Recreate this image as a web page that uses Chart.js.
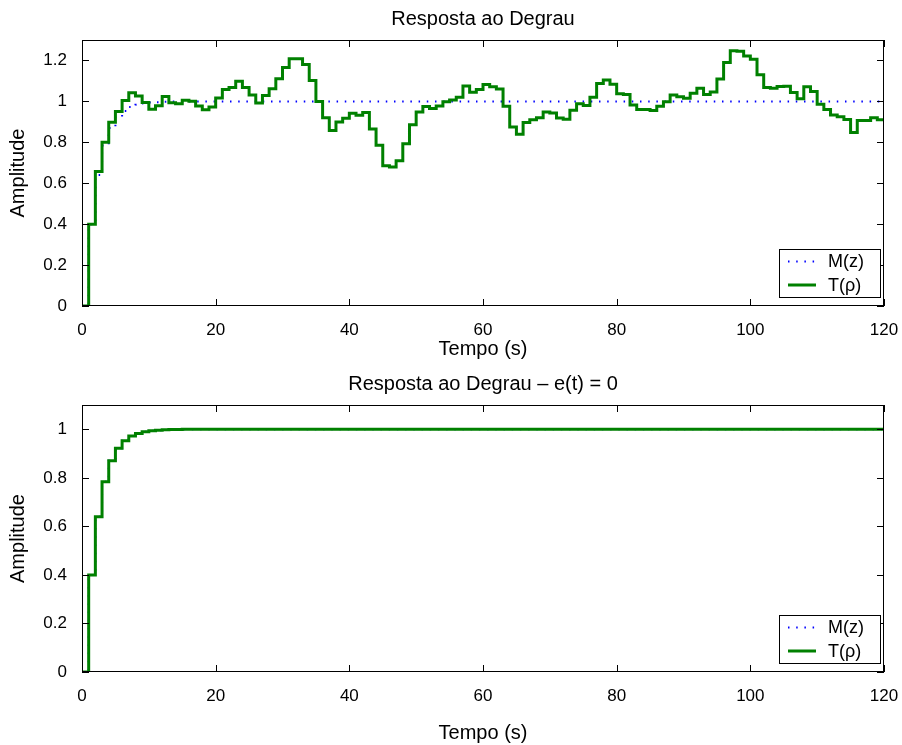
<!DOCTYPE html>
<html>
<head>
<meta charset="utf-8">
<script src="https://cdn.jsdelivr.net/npm/chart.js@4.4.0/dist/chart.umd.min.js"></script>
<style>
  html, body { margin: 0; padding: 0; background: #fff; }
  canvas { position: absolute; left: 0; }
  #stepChart { top: 0; }
  #idealChart { top: 372px; }
</style>
</head>
<body>
<canvas id="stepChart" width="902" height="372"></canvas>
<canvas id="idealChart" width="902" height="373"></canvas>
<script>
// Time base (s), one sample per second
const sampleTimes = [
    0, 1, 2, 3, 4, 5, 6, 7, 8, 9, 10, 11, 12, 13, 14, 15, 16, 17, 18, 19,
    20, 21, 22, 23, 24, 25, 26, 27, 28, 29, 30, 31, 32, 33, 34, 35, 36, 37, 38, 39,
    40, 41, 42, 43, 44, 45, 46, 47, 48, 49, 50, 51, 52, 53, 54, 55, 56, 57, 58, 59,
    60, 61, 62, 63, 64, 65, 66, 67, 68, 69, 70, 71, 72, 73, 74, 75, 76, 77, 78, 79,
    80, 81, 82, 83, 84, 85, 86, 87, 88, 89, 90, 91, 92, 93, 94, 95, 96, 97, 98, 99,
    100, 101, 102, 103, 104, 105, 106, 107, 108, 109, 110, 111, 112, 113, 114, 115, 116, 117, 118, 119,
    120
];

// Reference model M(z)
const mModel = [
    0, 0.4, 0.64, 0.784, 0.870, 0.922, 0.953, 0.972, 0.983, 0.990, 0.994, 0.996, 0.998, 0.999, 0.999,
    1, 1, 1, 1, 1, 1, 1, 1, 1, 1, 1, 1, 1, 1, 1, 1, 1, 1, 1, 1,
    1, 1, 1, 1, 1, 1, 1, 1, 1, 1, 1, 1, 1, 1, 1, 1, 1, 1, 1, 1,
    1, 1, 1, 1, 1, 1, 1, 1, 1, 1, 1, 1, 1, 1, 1, 1, 1, 1, 1, 1,
    1, 1, 1, 1, 1, 1, 1, 1, 1, 1, 1, 1, 1, 1, 1, 1, 1, 1, 1, 1,
    1, 1, 1, 1, 1, 1, 1, 1, 1, 1, 1, 1, 1, 1, 1, 1, 1, 1, 1, 1,
    1, 1, 1, 1, 1, 1
];

// Closed loop T(rho), with noise
const tNoisy = [
    0, 0.40, 0.657, 0.80, 0.898, 0.951, 1.004, 1.042, 1.026, 0.995,
    0.961, 0.979, 1.024, 0.993, 0.988, 1.005, 1.001, 0.977, 0.959, 0.972,
    1.017, 1.058, 1.068, 1.099, 1.068, 1.031, 0.992, 1.029, 1.062, 1.111,
    1.166, 1.208, 1.208, 1.18, 1.102, 1.0, 0.92, 0.858, 0.899, 0.917,
    0.942, 0.932, 0.946, 0.865, 0.786, 0.686, 0.679, 0.71, 0.793, 0.886,
    0.948, 0.975, 0.965, 0.978, 0.998, 1.007, 1.02, 1.075, 1.045, 1.058,
    1.083, 1.072, 1.06, 0.976, 0.875, 0.839, 0.897, 0.91, 0.92, 0.948,
    0.943, 0.919, 0.913, 0.957, 0.989, 0.98, 1.02, 1.088, 1.105, 1.084,
    1.037, 1.034, 0.982, 0.96, 0.96, 0.955, 0.976, 0.998, 1.031, 1.023,
    1.015, 1.04, 1.064, 1.034, 1.046, 1.11, 1.19, 1.248, 1.245, 1.222,
    1.206, 1.13, 1.068, 1.064, 1.073, 1.074, 1.044, 1.013, 1.072, 1.048,
    0.986, 0.96, 0.934, 0.925, 0.912, 0.848, 0.906, 0.906, 0.92, 0.91,
    0.91
];

// e(t) = 0: T(rho) follows the model exactly
const tIdeal = mModel;

const xTicks = [0, 20, 40, 60, 80, 100, 120];
const yTicksTop = [0, 0.2, 0.4, 0.6, 0.8, 1, 1.2];
const yTicksBottom = [0, 0.2, 0.4, 0.6, 0.8, 1];

Chart.defaults.font.family = '"Liberation Sans", Arial, sans-serif';
Chart.defaults.color = '#000';

// MATLAB-style box with inward ticks on all four sides
const matlabAxes = {
    id: 'matlabAxes',
    afterDraw(chart) {
        const { ctx, chartArea: a, scales: { x, y } } = chart;
        const L = 7;
        ctx.save();
        ctx.strokeStyle = '#000';
        ctx.lineWidth = 1;
        ctx.beginPath();
        x.ticks.forEach(t => {
            const px = Math.round(x.getPixelForValue(t.value)) + 0.5;
            ctx.moveTo(px, a.bottom); ctx.lineTo(px, a.bottom - L);
            ctx.moveTo(px, a.top); ctx.lineTo(px, a.top + L);
        });
        y.ticks.forEach(t => {
            const py = Math.round(y.getPixelForValue(t.value)) + 0.5;
            ctx.moveTo(a.left, py); ctx.lineTo(a.left + L, py);
            ctx.moveTo(a.right, py); ctx.lineTo(a.right - L, py);
        });
        ctx.stroke();
        ctx.strokeRect(a.left + 0.5, a.top + 0.5, a.width - 1, a.height - 1);
        ctx.restore();
    }
};

// Legend box in the lower right corner
const boxLegend = {
    id: 'boxLegend',
    afterDraw(chart) {
        const { ctx, chartArea: a } = chart;
        const w = 101, h = 48;
        const x0 = Math.round(a.right - 4 - w), y0 = Math.round(a.bottom - 9 - h);
        ctx.save();
        ctx.fillStyle = '#fff';
        ctx.fillRect(x0, y0, w, h);
        ctx.strokeStyle = '#000';
        ctx.lineWidth = 1;
        ctx.strokeRect(x0 + 0.5, y0 + 0.5, w, h);
        chart.data.datasets.forEach((ds, i) => {
            const cy = y0 + 12.5 + i * 23.5;
            ctx.beginPath();
            ctx.strokeStyle = ds.borderColor;
            ctx.lineWidth = ds.borderWidth;
            ctx.setLineDash(ds.borderDash || []);
            ctx.moveTo(x0 + 9, cy);
            ctx.lineTo(x0 + 37, cy);
            ctx.stroke();
            ctx.setLineDash([]);
            ctx.fillStyle = '#000';
            ctx.font = '18px "Liberation Sans", Arial, sans-serif';
            ctx.textBaseline = 'middle';
            ctx.fillText(ds.label, x0 + 49, cy + 1);
        });
        ctx.restore();
    }
};

const makeStepChart = (id, opts) => new Chart(document.getElementById(id), {
    type: 'line',
    data: {
        labels: sampleTimes,
        datasets: [{
            label: 'M(z)',
            data: opts.model,
            borderColor: '#0000ff',
            borderWidth: 2,
            borderDash: [1.5, 6.7],
            stepped: true,
            pointRadius: 0,
            order: 1
        }, {
            label: 'T(\u03c1)',
            data: opts.loop,
            borderColor: '#008000',
            borderWidth: 3,
            stepped: true,
            pointRadius: 0,
            order: 0
        }]
    },
    options: {
        responsive: false,
        animation: false,
        layout: { padding: { left: 0, right: 18, top: 0, bottom: 0 } },
        plugins: {
            legend: { display: false },
            tooltip: { enabled: false },
            title: {
                display: true,
                fullSize: false,
                text: opts.title,
                color: '#000',
                font: { size: 20, weight: 'normal' },
                padding: opts.titlePad
            }
        },
        scales: {
            x: {
                type: 'linear',
                min: 0, max: 120,
                grid: { display: false },
                border: { display: false },
                afterBuildTicks: s => { s.ticks = xTicks.map(v => ({ value: v })); },
                afterFit: s => { s.height = opts.xHeight; s.paddingLeft = 0; s.paddingRight = 0; },
                ticks: { font: { size: 17 }, padding: 6, maxRotation: 0, callback: v => String(v) },
                title: {
                    display: true, text: 'Tempo (s)', color: '#000',
                    font: { size: 20 }, padding: { top: 0, bottom: opts.xTitleBottom }
                }
            },
            y: {
                min: 0, max: opts.yMax,
                grid: { display: false },
                border: { display: false },
                afterBuildTicks: s => { s.ticks = opts.yTicks.map(v => ({ value: v })); },
                afterFit: s => { s.width = 82; },
                ticks: { font: { size: 17 }, padding: 7, callback: v => String(v) },
                title: {
                    display: true, text: 'Amplitude', color: '#000',
                    font: { size: 20 }, padding: { top: 6, bottom: 0 }
                }
            }
        }
    },
    plugins: [matlabAxes, boxLegend]
});

makeStepChart('stepChart', {
    title: 'Resposta ao Degrau',
    titlePad: { top: 7, bottom: 9 },
    model: mModel, loop: tNoisy,
    yMax: 1.3, yTicks: yTicksTop,
    xHeight: 66, xTitleBottom: 11
});

makeStepChart('idealChart', {
    title: 'Resposta ao Degrau \u2013 e(t) = 0',
    titlePad: { top: 0, bottom: 9 },
    model: mModel, loop: tIdeal,
    yMax: 1.1, yTicks: yTicksBottom,
    xHeight: 73, xTitleBottom: 0
});
</script>
</body>
</html>
